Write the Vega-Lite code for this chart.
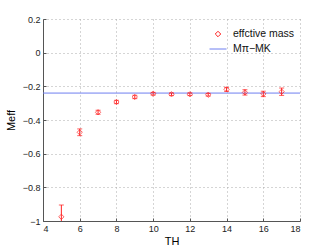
{
  "$schema": "https://vega.github.io/schema/vega-lite/v6.json",
  "width": 257,
  "height": 202,
  "autosize": {"type": "none"},
  "padding": {"left": 43, "top": 19, "right": 32, "bottom": 29},
  "background": "white",
  "config": {
    "font": "Liberation Sans",
    "view": {"stroke": null},
    "axis": {
      "labelFont": "Liberation Sans",
      "labelFontSize": 9,
      "labelColor": "#222",
      "labelOverlap": false,
      "titleFont": "Liberation Sans",
      "titleFontWeight": "normal",
      "titleColor": "#000",
      "titleFontSize": 11,
      "domainColor": "#555",
      "tickColor": "#555",
      "tickSize": -3,
      "labelPadding": 6,
      "grid": true,
      "gridColor": "#aaa",
      "gridDash": [1, 3],
      "gridWidth": 1
    }
  },
  "datasets": {
    "pts": [
      {"T": 5, "M": -0.975, "lo": -1.045, "hi": -0.905, "series": "effctive mass"},
      {"T": 6, "M": -0.473, "lo": -0.493, "hi": -0.453, "series": "effctive mass"},
      {"T": 7, "M": -0.354, "lo": -0.366, "hi": -0.342, "series": "effctive mass"},
      {"T": 8, "M": -0.293, "lo": -0.303, "hi": -0.283, "series": "effctive mass"},
      {"T": 9, "M": -0.263, "lo": -0.273, "hi": -0.253, "series": "effctive mass"},
      {"T": 10, "M": -0.244, "lo": -0.252, "hi": -0.236, "series": "effctive mass"},
      {"T": 11, "M": -0.247, "lo": -0.255, "hi": -0.239, "series": "effctive mass"},
      {"T": 12, "M": -0.247, "lo": -0.255, "hi": -0.239, "series": "effctive mass"},
      {"T": 13, "M": -0.25, "lo": -0.258, "hi": -0.242, "series": "effctive mass"},
      {"T": 14, "M": -0.218, "lo": -0.23, "hi": -0.206, "series": "effctive mass"},
      {"T": 15, "M": -0.236, "lo": -0.252, "hi": -0.22, "series": "effctive mass"},
      {"T": 16, "M": -0.245, "lo": -0.261, "hi": -0.229, "series": "effctive mass"},
      {"T": 17, "M": -0.232, "lo": -0.254, "hi": -0.21, "series": "effctive mass"}
    ],
    "line": [
      {"M": -0.24, "series": "Mπ−MK"}
    ]
  },
  "layer": [
    {
      "data": {"name": "line"},
      "mark": {"type": "rule", "strokeWidth": 1},
      "encoding": {
        "y": {
          "field": "M",
          "type": "quantitative",
          "scale": {"domain": [-1, 0.2], "nice": false, "zero": false},
          "axis": {"values": [-1, -0.8, -0.6, -0.4, -0.2, 0, 0.2], "tickCount": 20, "format": "~g", "title": "Meff", "titlePadding": 6, "labelOverlap": false}
        },
        "color": {
          "field": "series",
          "type": "nominal",
          "scale": {"domain": ["effctive mass", "Mπ−MK"], "range": ["#ff2020", "#6f7ff0"]},
          "legend": {
            "title": null,
            "orient": "none",
            "legendX": 166,
            "legendY": 6,
            "labelFontSize": 10.5,
            "labelFont": "Liberation Sans",
            "labelColor": "#111",
            "symbolSize": 144,
            "rowPadding": 0,
            "labelOffset": 6,
            "encode": {
              "symbols": {
                "update": {
                  "shape": {"signal": "datum.value == 'effctive mass' ? 'diamond' : 'stroke'"},
                  "size": {"signal": "datum.value == 'effctive mass' ? 30 : 289"},
                  "fill": {"value": "transparent"},
                  "strokeWidth": {"value": 1}
                }
              }
            }
          }
        }
      }
    },
    {
      "data": {"name": "pts"},
      "mark": {"type": "errorbar", "ticks": {"size": 5}, "clip": true, "thickness": 1},
      "encoding": {
        "x": {
          "field": "T",
          "type": "quantitative",
          "scale": {"domain": [4, 18], "nice": false, "zero": false},
          "axis": {"values": [4, 6, 8, 10, 12, 14, 16, 18], "tickCount": 20, "format": "~g", "title": "TH", "titlePadding": 2, "labelOverlap": false}
        },
        "y": {"field": "lo", "type": "quantitative", "title": "Meff"},
        "y2": {"field": "hi"},
        "color": {"value": "#ff2020"}
      }
    },
    {
      "data": {"name": "pts"},
      "mark": {"type": "point", "shape": "diamond", "filled": false, "size": 28, "strokeWidth": 1, "clip": true},
      "encoding": {
        "x": {"field": "T", "type": "quantitative", "title": "TH"},
        "y": {"field": "M", "type": "quantitative", "title": "Meff"},
        "color": {"field": "series", "type": "nominal"}
      }
    }
  ]
}
